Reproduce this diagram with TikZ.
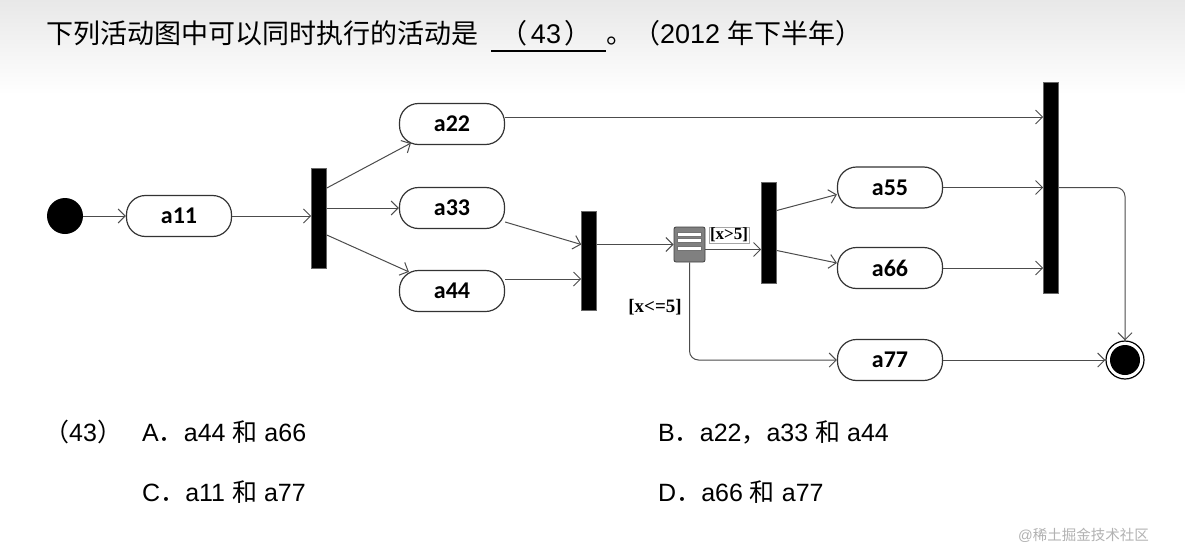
\documentclass[tikz,border=0pt]{standalone}
\usepackage{fontspec}
\setmainfont{Liberation Sans}
\newfontfamily\cjk{Noto Sans CJK SC}
\newfontfamily\lblfont{Carlito}
\newfontfamily\guardfont{Liberation Serif}
\usetikzlibrary{arrows.meta}
\begin{document}
\begin{tikzpicture}[x=1pt,y=-1pt,
  act/.style={draw=black!80, line width=1.2pt, rounded corners=19pt, minimum width=105pt, minimum height=41pt, fill=white, inner sep=0pt, font=\lblfont\bfseries\fontsize{24}{24}\selectfont},
  bar/.style={fill=black, draw=black!60, line width=0.6pt, minimum width=15pt, inner sep=0pt},
  flow/.style={draw=black!70, line width=1pt, -{Straight Barb[length=7pt,width=14pt,line width=1pt]}},
  guard/.style={inner sep=1.5pt, font=\guardfont\bfseries},
  title/.style={anchor=base west, inner sep=0pt, font=\fontsize{27}{27}\selectfont},
  opt/.style={anchor=base west, inner sep=0pt, font=\fontsize{25}{25}\selectfont},
]
\useasboundingbox (0,0) rectangle (1185,551);
\fill[white] (0,0) rectangle (1185,551);
\shade[top color=black!9, bottom color=white] (0,0) rectangle (1185,95);

% title
\node[title] (t1) at (46,44) {\cjk 下列活动图中可以同时执行的活动是};
\node[title, anchor=base] (t2) at (546,44) {{\cjk （}\hspace{3pt}43\hspace{3pt}{\cjk ）}};
\coordinate (u1) at (491,51);
\coordinate (u2) at (606,51);
\draw[line width=2pt] (u1) -- (u2);
\node[title] (t3) at (606,44) {{\cjk 。（}2012 {\cjk 年下半年）}};

% initial node
\node[circle, fill=black, minimum size=36pt, inner sep=0pt] (init) at (65,216) {};
% activities
\node[act] (a11) at (179,216) {a11};
\node[act] (a22) at (452,124) {a22};
\node[act] (a33) at (452,208) {a33};
\node[act] (a44) at (452,291) {a44};
\node[act] (a55) at (890,187.5) {a55};
\node[act] (a66) at (890,268) {a66};
\node[act] (a77) at (890,360) {a77};
% bars
\node[bar, minimum height=100pt] (bar1) at (319,218) {};
\node[bar, minimum height=99pt] (bar2) at (589,260.5) {};
\node[bar, minimum height=101pt] (bar3) at (769,232.5) {};
\node[bar, minimum height=211pt] (bar4) at (1051,187.5) {};
% decision icon
\node[draw=black!75, fill=black!50, rounded corners=2pt, line width=0.8pt, minimum width=31pt, minimum height=35pt, inner sep=0pt] (dec) at (689.5,244.5) {};
\foreach \yy in {-10,-4,4}{
  \draw[black!55, fill=white, line width=0.6pt] ([xshift=-12pt,yshift=-\yy pt+2.2pt]dec.center) rectangle ([xshift=12pt,yshift=-\yy pt-2.2pt]dec.center);
}
% final node
\node[circle, draw=black, line width=1.2pt, minimum size=38pt, inner sep=0pt] (fin) at (1125,360) {};
\node[circle, fill=black, minimum size=30pt, inner sep=0pt] (finc) at (fin.center) {};

% connectors
\draw[flow] (init) -- (a11);
\draw[flow] (a11) -- (bar1.west |- a11.east);
\draw[flow] ([yshift=30pt]bar1.east) -- ([xshift=12pt,yshift=2pt]a22.south west);
\draw[flow] (bar1.east |- a33.west) -- (a33.west);
\draw[flow] ([yshift=-17pt]bar1.east) -- ([xshift=10pt,yshift=-2pt]a44.north west);
\coordinate (s22) at ([yshift=7pt]a22.east);
\draw[flow] (s22) -- (s22 -| bar4.west);
\draw[flow] ([yshift=-14pt]a33.east) -- ([yshift=16pt]bar2.west);
\coordinate (s44) at ([yshift=12pt]a44.east);
\draw[flow] (s44) -- (s44 -| bar2.west);
\draw[flow] (bar2.east |- dec.west) -- (dec.west);
\coordinate (sd) at ([yshift=-5pt]dec.east);
\draw[flow] (sd) -- (sd -| bar3.west);
\draw[flow] ([yshift=22pt]bar3.east) -- ([yshift=-7pt]a55.west);
\draw[flow] ([yshift=-18pt]bar3.east) -- ([yshift=5pt]a66.west);
\draw[flow] (a55) -- (a55.east -| bar4.west);
\draw[flow] (a66) -- (a66.east -| bar4.west);
\draw[flow, rounded corners=9pt] (bar4.east) -| (fin.north);
\draw[flow, rounded corners=9pt] (dec.south) |- (a77.west);
\draw[flow] (a77) -- (fin.west);

% guards
\node[guard, draw=black!35, fill=white, line width=0.6pt, inner sep=1pt, font=\guardfont\bfseries\fontsize{17}{17}\selectfont] (g1) at (729,235) {[x>5]};
\node[guard, font=\guardfont\bfseries\fontsize{19}{19}\selectfont] (g2) at (655,307) {[x<=5]};

% options
\node[opt] (q) at (44,441) {{\cjk （}43{\cjk ）}};
\node[opt] (oa) at (142,441) {A{\cjk ．}a44 {\cjk 和} a66};
\node[opt] (ob) at (658,441) {B{\cjk ．}a22{\cjk ，}a33 {\cjk 和} a44};
\node[opt] (oc) at (142,501) {C{\cjk ．}a11 {\cjk 和} a77};
\node[opt] (od) at (658,501) {D{\cjk ．}a66 {\cjk 和} a77};

% watermark
\node[anchor=base west, inner sep=0pt, text=black!30, font=\fontsize{14.5}{14.5}\selectfont] (wm) at (1018,540) {@{\cjk 稀土掘金技术社区}};
\end{tikzpicture}
\end{document}
